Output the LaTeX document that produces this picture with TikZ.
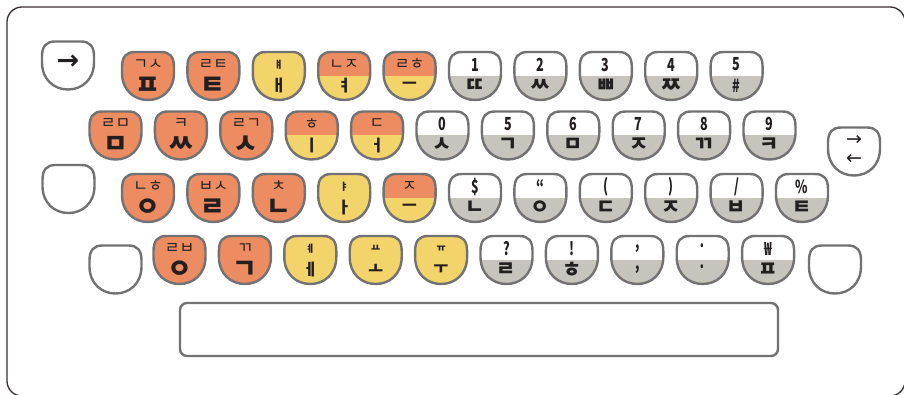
\documentclass[tikz,border=0pt]{standalone}
\usepackage{fontspec}
\usepackage{graphicx}
\newfontfamily\kr{Noto Sans CJK KR}
\newfontfamily\dv{DejaVu Sans}
\definecolor{kor}{HTML}{EC8C60}
\definecolor{kye}{HTML}{F3D46A}
\definecolor{kgr}{HTML}{C6C4BC}
\definecolor{kbd}{HTML}{727274}
\definecolor{ktx}{HTML}{231F20}
\definecolor{kfr}{HTML}{3A3030}
\tikzset{
  kb/.style={draw=kbd, line width=2.4pt},
  lab/.style={inner sep=0pt, text=ktx, font=\kr},
  arr/.style={inner sep=0pt, text=ktx},
}
\newcommand{\keypath}{(-26,-9) .. controls (-26,-19) and (-22,-24) .. (-13,-24) -- (13,-24) .. controls (22,-24) and (26,-19) .. (26,-9) -- (26,-3) .. controls (26,14) and (14,24) .. (0,24) .. controls (-14,24) and (-26,14) .. (-26,-3) -- cycle}
% consonant labels
\newcommand{\ktop}[1]{{\fontsize{16}{16}\selectfont #1}}
\newcommand{\kbot}[1]{{\fontsize{27}{27}\selectfont\bfseries #1}}
% vowel labels
\newcommand{\ktv}[1]{{\fontsize{10}{10}\selectfont\bfseries #1}}
\newcommand{\kbv}[1]{{\fontsize{16}{16}\selectfont\bfseries #1}}
\newcommand{\kdig}[1]{\scalebox{0.7}[1]{\fontsize{18}{18}\selectfont\bfseries #1}}
\newcommand{\ksub}[1]{{\fontsize{21}{21}\selectfont\bfseries #1}}
\newcommand{\kcap}[7]{%
  \begin{scope}[shift={(#2,#3)}]
    \begin{scope}
      \clip \keypath;
      \fill[#4] (-30,-30) rectangle (30,0);
      \fill[#5] (-30,0) rectangle (30,30);
    \end{scope}
    \draw[kb] \keypath;
    \node[lab] (#1t) at (0,-11.5) {#6};
    \node[lab] (#1b) at (0,9.5) {#7};
  \end{scope}}
\newcommand{\skey}[2]{%
  \begin{scope}[shift={(#1,#2)}]
    \draw[kb, fill=white] \keypath;
  \end{scope}}
\begin{document}
\begin{tikzpicture}[x=1pt,y=-1pt]
\clip (0,0) rectangle (904,395);
\fill[white] (0,0) rectangle (904,395);
\draw[kfr, line width=1.3pt, rounded corners=15pt] (7,7) rectangle (905,396);
% special keys
\skey{68}{65.5}
\node[arr, font=\dv\bfseries\fontsize{27}{27}\selectfont] (tab) at (68,62) {→};
\skey{854}{151.5}
\node[arr, font=\dv\fontsize{19}{19}\selectfont] (swr) at (854,140.5) {→};
\node[arr, font=\dv\fontsize{19}{19}\selectfont] (swl) at (854,159.5) {←};
\skey{68.5}{189}
\skey{115.5}{269.5}
\skey{835}{269.5}
% space bar
\draw[kb, fill=white, rounded corners=7pt] (180,303) rectangle (778,356);
% row 1
\kcap{a1}{148}{76}{kor}{kor}{\ktop{ㄱㅅ}}{\kbot{ㅍ}}
\kcap{a2}{213.4}{76}{kor}{kor}{\ktop{ㄹㅌ}}{\kbot{ㅌ}}
\kcap{a3}{278.8}{76}{kye}{kye}{\ktv{ㅒ}}{\kbv{ㅐ}}
\kcap{a4}{344.2}{76}{kor}{kye}{\ktop{ㄴㅈ}}{\kbv{ㅕ}}
\kcap{a5}{409.6}{76}{kor}{kye}{\ktop{ㄹㅎ}}{\kbv{ㅡ}}
\kcap{a6}{475}{76}{white}{kgr}{\kdig{1}}{\ksub{ㄸ}}
\kcap{a7}{540.4}{76}{white}{kgr}{\kdig{2}}{\ksub{ㅆ}}
\kcap{a8}{605.8}{76}{white}{kgr}{\kdig{3}}{\ksub{ㅃ}}
\kcap{a9}{671.2}{76}{white}{kgr}{\kdig{4}}{\ksub{ㅉ}}
\kcap{a10}{736.6}{76}{white}{kgr}{\kdig{5}}{\kdig{\#}}
% row 2
\kcap{b1}{115.5}{135.5}{kor}{kor}{\ktop{ㄹㅁ}}{\kbot{ㅁ}}
\kcap{b2}{180.9}{135.5}{kor}{kor}{\ktop{ㅋ}}{\kbot{ㅆ}}
\kcap{b3}{246.3}{135.5}{kor}{kor}{\ktop{ㄹㄱ}}{\kbot{ㅅ}}
\kcap{b4}{311.7}{135.5}{kor}{kye}{\ktop{ㅎ}}{\kbv{ㅣ}}
\kcap{b5}{377.1}{135.5}{kor}{kye}{\ktop{ㄷ}}{\kbv{ㅓ}}
\kcap{b6}{442.5}{135.5}{white}{kgr}{\kdig{0}}{\ksub{ㅅ}}
\kcap{b7}{507.9}{135.5}{white}{kgr}{\kdig{5}}{\ksub{ㄱ}}
\kcap{b8}{573.3}{135.5}{white}{kgr}{\kdig{6}}{\ksub{ㅁ}}
\kcap{b9}{638.7}{135.5}{white}{kgr}{\kdig{7}}{\ksub{ㅈ}}
\kcap{b10}{704.1}{135.5}{white}{kgr}{\kdig{8}}{\ksub{ㄲ}}
\kcap{b11}{769.5}{135.5}{white}{kgr}{\kdig{9}}{\ksub{ㅋ}}
% row 3
\kcap{c1}{148}{198}{kor}{kor}{\ktop{ㄴㅎ}}{\kbot{ㅇ}}
\kcap{c2}{213.4}{198}{kor}{kor}{\ktop{ㅂㅅ}}{\kbot{ㄹ}}
\kcap{c3}{278.8}{198}{kor}{kor}{\ktop{ㅊ}}{\kbot{ㄴ}}
\kcap{c4}{344.2}{198}{kye}{kye}{\ktv{ㅑ}}{\kbv{ㅏ}}
\kcap{c5}{409.6}{198}{kor}{kye}{\ktop{ㅈ}}{\kbv{ㅡ}}
\kcap{c6}{475}{198}{white}{kgr}{\kdig{\$}}{\ksub{ㄴ}}
\kcap{c7}{540.4}{198}{white}{kgr}{\kdig{“}}{\ksub{ㅇ}}
\kcap{c8}{605.8}{198}{white}{kgr}{\kdig{(}}{\ksub{ㄷ}}
\kcap{c9}{671.2}{198}{white}{kgr}{\kdig{)}}{\ksub{ㅈ}}
\kcap{c10}{736.6}{198}{white}{kgr}{\kdig{/}}{\ksub{ㅂ}}
\kcap{c11}{802}{198}{white}{kgr}{\kdig{\%}}{\ksub{ㅌ}}
% row 4
\kcap{d1}{179.5}{260}{kor}{kor}{\ktop{ㄹㅂ}}{\kbot{ㅇ}}
\kcap{d2}{244.9}{260}{kor}{kor}{\ktop{ㄲ}}{\kbot{ㄱ}}
\kcap{d3}{310.3}{260}{kye}{kye}{\ktv{ㅖ}}{\kbv{ㅔ}}
\kcap{d4}{375.7}{260}{kye}{kye}{\ktv{ㅛ}}{\kbv{ㅗ}}
\kcap{d5}{441.1}{260}{kye}{kye}{\ktv{ㅠ}}{\kbv{ㅜ}}
\kcap{d6}{506.5}{260}{white}{kgr}{\kdig{?}}{\ksub{ㄹ}}
\kcap{d7}{571.9}{260}{white}{kgr}{\kdig{!}}{\ksub{ㅎ}}
\kcap{d8}{637.3}{260}{white}{kgr}{\kdig{,}}{\kdig{,}}
\kcap{d9}{702.7}{260}{white}{kgr}{\kdig{·}}{\kdig{·}}
\kcap{d10}{768.1}{260}{white}{kgr}{\kdig{₩}}{\ksub{ㅍ}}
\end{tikzpicture}
\end{document}
